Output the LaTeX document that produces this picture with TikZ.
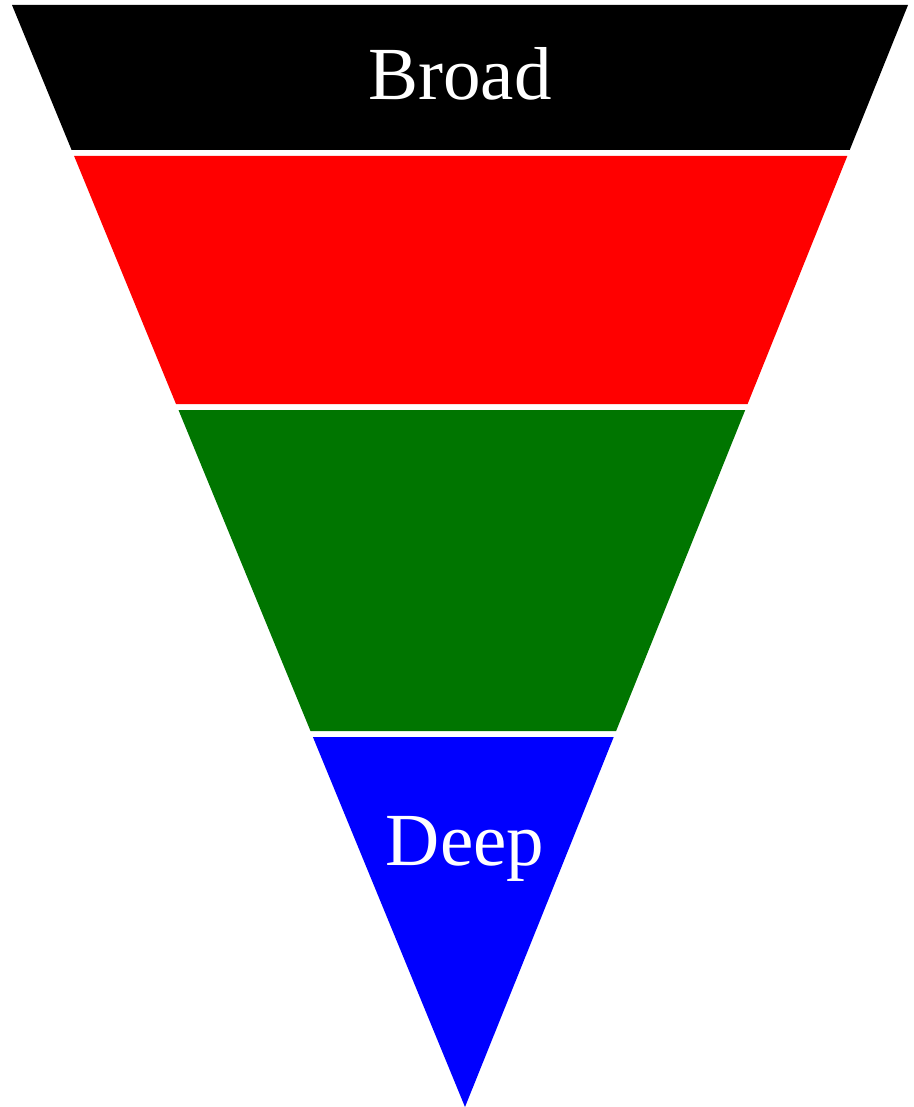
\documentclass[tikz,border=0pt]{standalone}
\usepackage{fontspec}
\setmainfont{Liberation Serif}
\definecolor{bandgreen}{RGB}{0,117,0}
\definecolor{bandred}{RGB}{255,0,0}
\definecolor{bandblue}{RGB}{0,0,255}
\begin{document}
\begin{tikzpicture}[x=1pt,y=-1pt,
  band/.style={draw=none},
  label/.style={text=white,font=\fontsize{75}{80}\selectfont,anchor=base,inner sep=0pt}]
\useasboundingbox (0,0) rectangle (913,1107);
\fill[band,black] (12,5) -- (908,5) -- (849.7,150) -- (71.6,150) -- cycle;
\fill[band,bandred] (74.1,156) -- (847.3,156) -- (747.6,404) -- (176.0,404) -- cycle;
\fill[band,bandgreen] (178.5,410) -- (745.2,410) -- (616.1,731) -- (310.5,731) -- cycle;
\fill[band,bandblue] (312.9,737) -- (613.7,737) -- (465,1107) -- cycle;
\node[label] (broad) at (460,100) {Broad};
\node[label] (deep) at (465,865) {Deep};
\end{tikzpicture}
\end{document}
